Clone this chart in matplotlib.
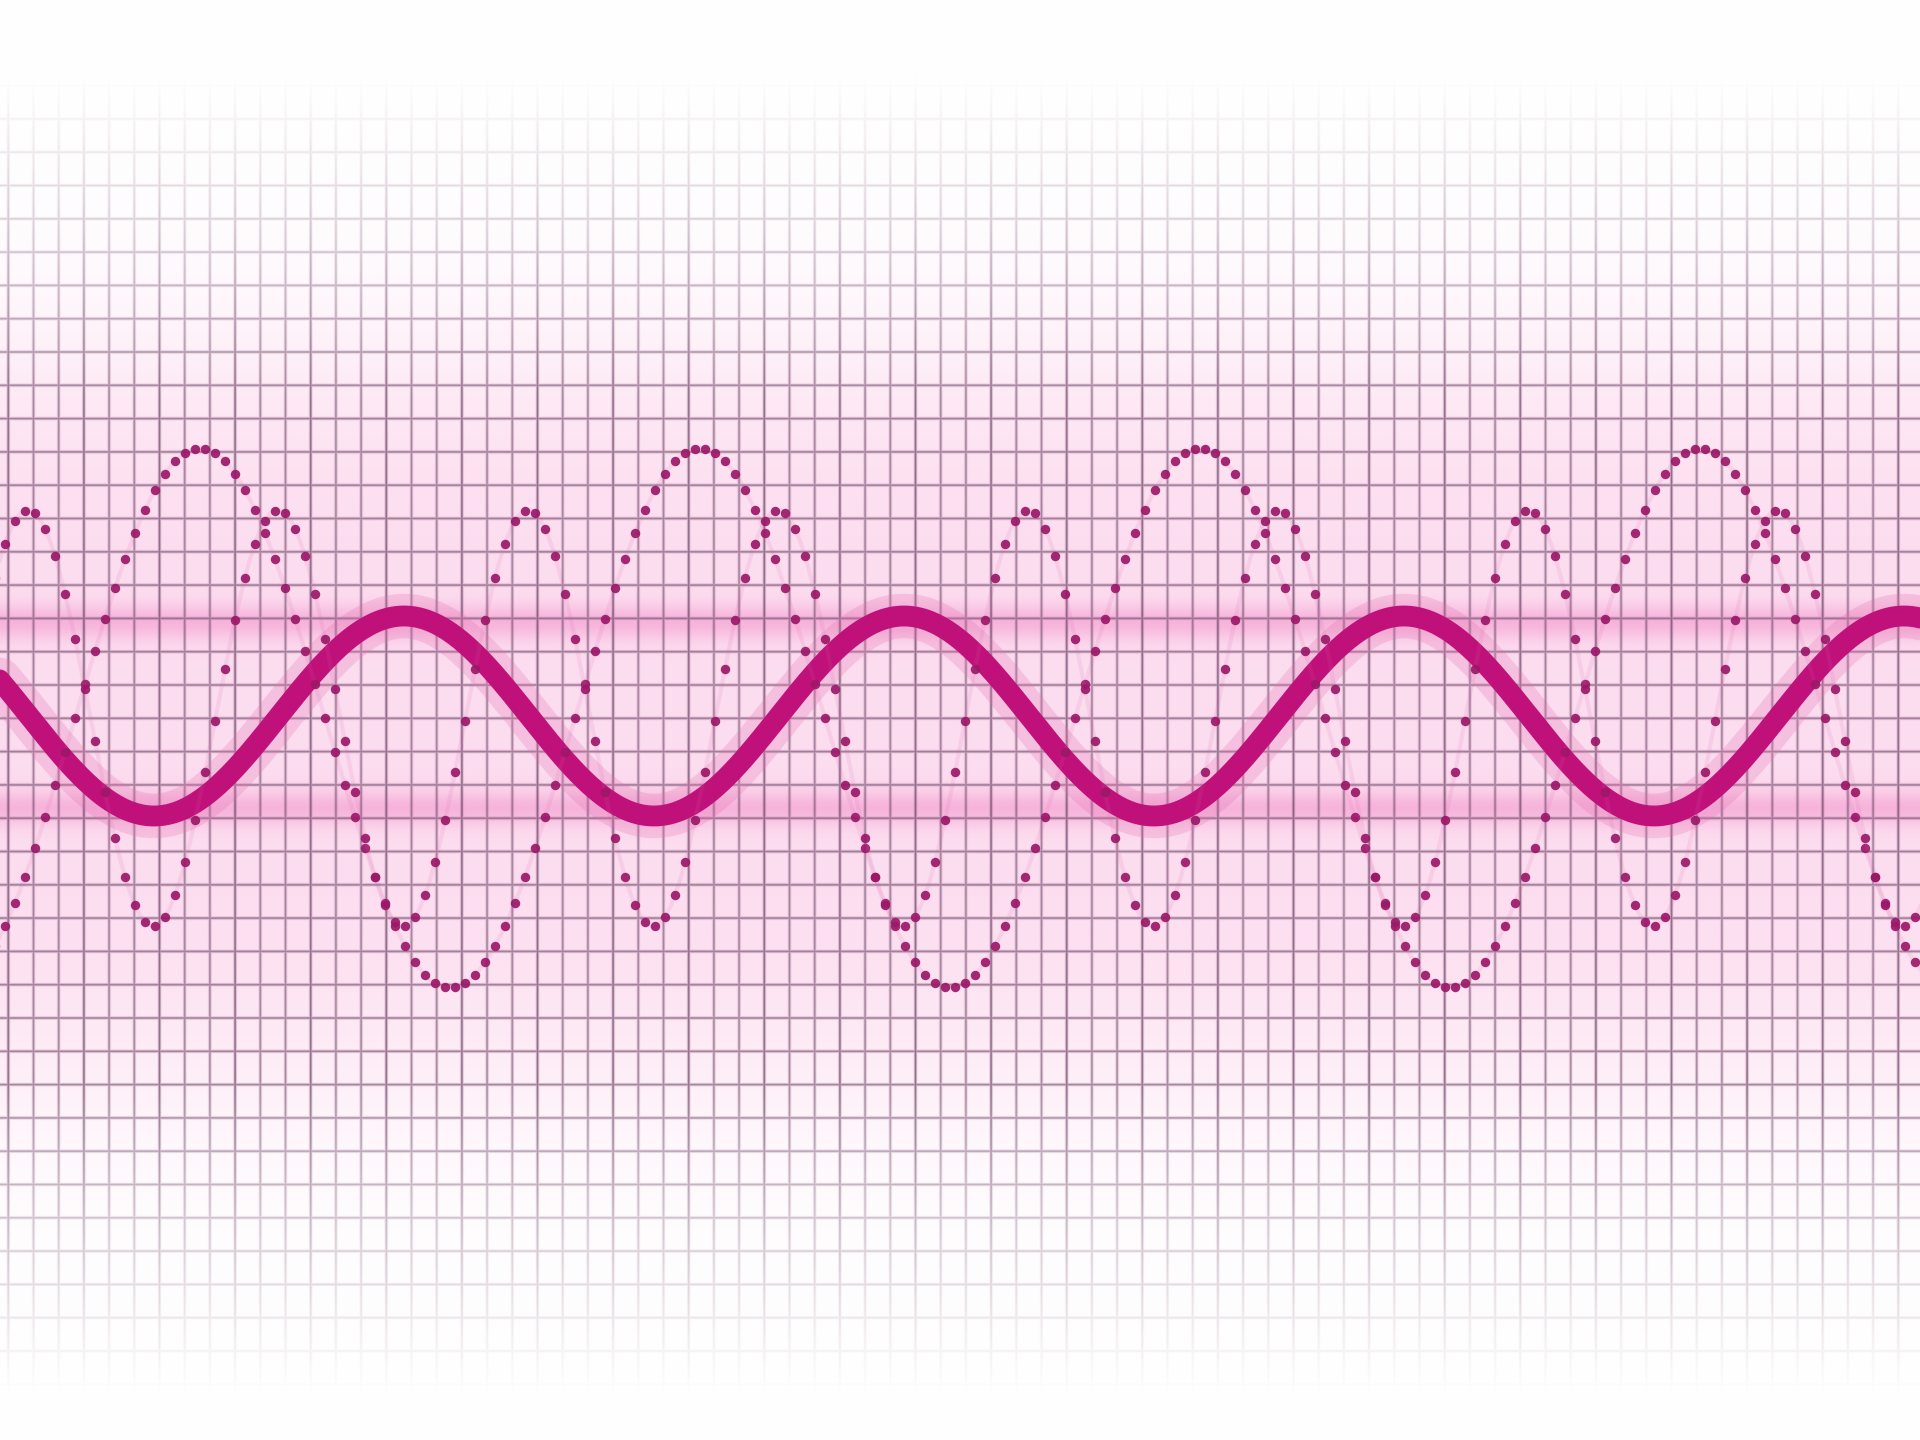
import numpy as np
import matplotlib
matplotlib.use("Agg")
import matplotlib.pyplot as plt

# canvas size in pixels (the picture is drawn in pixel units, y going down)
W, H = 1920, 1440

# waves: centre line, amplitude, period and x of first crest
wave_names = ["thick", "large dotted", "medium dotted"]
centers = [716, 718, 718]
amplitudes = [100, 270, 208]
periods = [500, 500, 250]
crest_x = [404, 200, 28]

# grid spacing and offsets
grid_dx, grid_x0 = 25.2, 8.3
grid_dy, grid_y0 = 33.3, 19.0

# glow bands along the crest / trough of the thick wave
band_y = [622, 808]


def wave(x, i):
    return centers[i] - amplitudes[i] * np.cos(2 * np.pi * (x - crest_x[i]) / periods[i])


# ---- background raster: pink wash + fading grid
yy = np.arange(H)[:, None] + 0.5
xx = np.arange(W)[None, :] + 0.5

def ramp(y, a, b):
    return np.clip((y - a) / (b - a), 0, 1)

# how strong the grid is at each row
env = ramp(yy, 70, 400) * (1 - ramp(yy, 1080, 1400))
env = env ** 1.2
# pink wash
wash = np.exp(-((yy - 715) / 360.0) ** 4) * 0.85 + 0.15 * env

img = np.ones((H, W, 3))
pink = np.array([0.985, 0.78, 0.90])
img = img * (1 - 0.62 * wash[..., None]) + pink * 0.62 * wash[..., None]

glow = np.zeros_like(yy)
for b in band_y:
    glow = glow + np.exp(-((yy - b) / 17.0) ** 2)
glow_col = np.array([0.95, 0.58, 0.80])
img = img * (1 - 0.55 * glow[..., None]) + glow_col * 0.55 * glow[..., None]

dxl = np.abs(((xx - grid_x0 + grid_dx / 2) % grid_dx) - grid_dx / 2)
dyl = np.abs(((yy - grid_y0 + grid_dy / 2) % grid_dy) - grid_dy / 2)
vline = np.exp(-(dxl / 1.3) ** 2)
hline = np.exp(-(dyl / 1.3) ** 2)
# every few columns a slightly darker line
heavy = (np.round((xx - grid_x0) / grid_dx) % 3 == 0) * 0.2 + 0.8
lines = np.maximum(vline * heavy, hline * 0.85)
line_col = np.array([0.45, 0.28, 0.42])
la = (lines * env * 0.75)[..., None]
img = img * (1 - la) + line_col * la

fig = plt.figure(figsize=(W / 100, H / 100), dpi=100)
ax = fig.add_axes([0, 0, 1, 1])
ax.imshow(img, extent=[0, W, H, 0], origin="upper", interpolation="bilinear")

x_line = np.linspace(-20, W + 20, 3000)
# thick wave with glow
ax.plot(x_line, wave(x_line, 0), color="#e46fb0", lw=32, alpha=0.25, solid_capstyle="round")
ax.plot(x_line, wave(x_line, 0), color="#c0117a", lw=15, solid_capstyle="round")

# dotted waves
x_dots = np.arange(-5, W + 10, 10.0)
for i in (1, 2):
    ax.plot(x_line, wave(x_line, i), color="#d860a8", lw=3, alpha=0.12)
    ax.plot(x_dots, wave(x_dots, i), ls="none", marker="o", ms=6.8,
            mfc="#9c1868", mec="none", alpha=0.92)

ax.set_xlim(0, W)
ax.set_ylim(H, 0)
ax.axis("off")
fig.savefig("out.png", dpi=100)
